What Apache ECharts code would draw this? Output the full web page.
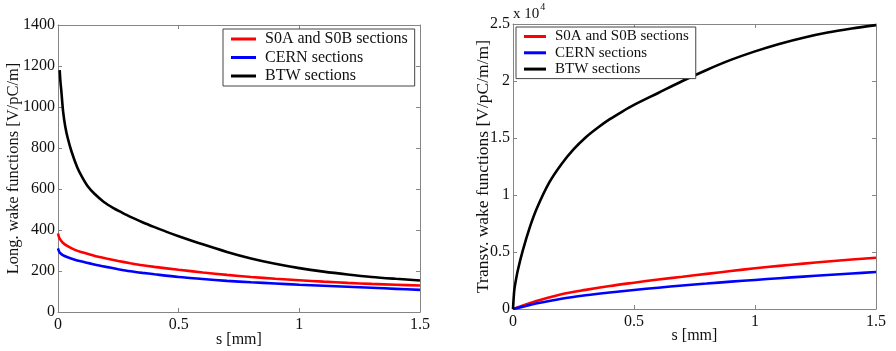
<!DOCTYPE html>
<html>
<head>
<meta charset="utf-8">
<script src="https://cdn.jsdelivr.net/npm/echarts@6/dist/echarts.min.js"></script>
<style>
html,body{margin:0;padding:0;background:#fff;}
#c{width:896px;height:351px;}
</style>
</head>
<body>
<div id="c"></div>
<script>
// ---- Data ----
const seriesNames = ['S0A and S0B sections', 'CERN sections', 'BTW sections'];
const xTicks = [0, 0.5, 1, 1.5];

// Longitudinal wake functions [V/pC/m] vs s [mm]
const sLong = [0, 0.005, 0.01, 0.02, 0.04, 0.07, 0.1, 0.15, 0.2, 0.25, 0.3, 0.35, 0.4, 0.5, 0.6, 0.7, 0.8, 0.9, 1.0, 1.1, 1.2, 1.3, 1.4, 1.5];
const longRed  = [383, 362, 352, 338, 321, 303, 291, 274, 261, 249, 238, 228, 220, 206, 193, 181, 171, 162, 155, 148, 142, 137, 133, 129];
const longBlue = [310, 294, 287, 278, 267, 255, 246, 232, 220, 209, 199, 191, 184, 171, 161, 152, 145, 139, 133, 128, 123, 118, 113, 108];
const sLongBlack = [0.007, 0.01, 0.014, 0.021, 0.03, 0.04, 0.056, 0.08, 0.1, 0.124, 0.15, 0.19, 0.23, 0.26, 0.3, 0.35, 0.4, 0.45, 0.5, 0.6, 0.7, 0.8, 0.9, 1.0, 1.1, 1.2, 1.3, 1.4, 1.5];
const longBlack  = [1180, 1125, 1075, 980, 905, 850, 783, 705, 658, 612, 578, 537, 507, 488, 464, 438, 414, 391, 370, 330, 293, 261, 235, 214, 197, 183, 171, 162, 154];

// Transverse wake functions [V/pC/m/m] vs s [mm]
const sTrans = [0, 0.05, 0.1, 0.2, 0.3, 0.4, 0.5, 0.6, 0.7, 0.8, 0.9, 1.0, 1.1, 1.2, 1.3, 1.4, 1.5];
const transRed  = [0, 380, 720, 1300, 1680, 2020, 2310, 2590, 2830, 3080, 3330, 3570, 3780, 3980, 4170, 4340, 4500];
const transBlue = [0, 250, 500, 900, 1200, 1450, 1670, 1870, 2060, 2230, 2400, 2550, 2700, 2840, 2980, 3110, 3240];
const sTransBlack = [0, 0.005, 0.01, 0.02, 0.04, 0.07, 0.1, 0.15, 0.2, 0.25, 0.3, 0.35, 0.4, 0.45, 0.5, 0.6, 0.7, 0.8, 0.9, 1.0, 1.1, 1.2, 1.3, 1.4, 1.5];
const transBlack  = [0, 1600, 2300, 3400, 5100, 7200, 8900, 11100, 12700, 14000, 15050, 15900, 16650, 17300, 17900, 18950, 20000, 20970, 21850, 22600, 23250, 23800, 24250, 24600, 24900];

function pairs(xs, ys) { return xs.map((x, i) => [x, ys[i]]); }

const colors = ['#ff0000', '#0000ff', '#000000'];
const FONT = '"Liberation Serif", "DejaVu Serif", serif';
const axisGrey = '#858585';

function xAx(grid, top, show, nameGap) {
  return {
    type: 'value', gridIndex: grid, min: xTicks[0], max: xTicks[xTicks.length - 1], interval: 0.5,
    position: top ? 'top' : 'bottom',
    axisLine: { show: true, onZero: false, lineStyle: { color: axisGrey, width: 1 } },
    axisTick: { show: true, inside: true, length: 4, lineStyle: { color: axisGrey } },
    axisLabel: { show: show, color: '#111', fontFamily: FONT, fontSize: 16, margin: 5, formatter: v => String(v) },
    splitLine: { show: false },
    name: show ? 's [mm]' : '', nameLocation: 'middle', nameGap: nameGap, nameMoveOverlap: false,
    nameTextStyle: { color: '#111', fontFamily: FONT, fontSize: 16 }
  };
}
function yAx(grid, right, show, max, interval, name, nameGap, fontSize, fmt) {
  return {
    type: 'value', gridIndex: grid, min: 0, max: max, interval: interval,
    position: right ? 'right' : 'left',
    axisLine: { show: true, onZero: false, lineStyle: { color: axisGrey, width: 1 } },
    axisTick: { show: true, inside: true, length: 4, lineStyle: { color: axisGrey } },
    axisLabel: { show: show, color: '#111', fontFamily: FONT, fontSize: 16, margin: 3, formatter: fmt },
    splitLine: { show: false },
    name: show ? name : '', nameLocation: 'middle', nameGap: nameGap, nameRotate: 90, nameMoveOverlap: false,
    nameTextStyle: { color: '#111', fontFamily: FONT, fontSize: fontSize }
  };
}
function line(name, data, xi, yi, color) {
  return {
    type: 'line', name: name, data: data, xAxisIndex: xi, yAxisIndex: yi,
    showSymbol: false, smooth: 0.3,
    lineStyle: { color: color, width: 2.6 }, itemStyle: { color: color },
    clip: true, animation: false
  };
}
function legend(left, top, fontSize, itemWidth, gap) {
  return {
    orient: 'vertical', left: left, top: top,
    data: seriesNames.map((n, i) => ({ name: n, icon: 'rect', itemStyle: { color: colors[i] } })),
    itemWidth: itemWidth, itemHeight: 3, itemGap: gap,
    padding: [2, 7, 2, 8],
    borderColor: '#444', borderWidth: 1, backgroundColor: '#fff',
    textStyle: { color: '#111', fontFamily: FONT, fontSize: fontSize, padding: [0, 0, 0, 4] },
    selectedMode: false
  };
}

const chart = echarts.init(document.getElementById('c'), null, { renderer: 'canvas' });
chart.setOption({
  backgroundColor: '#fff',
  animation: false,
  grid: [
    { left: 58, top: 25, width: 362, height: 287, outerBoundsMode: 'none', containLabel: false },
    { left: 513, top: 24, width: 363, height: 285, outerBoundsMode: 'none', containLabel: false }
  ],
  xAxis: [xAx(0, false, true, 20), xAx(0, true, false, 0), xAx(1, false, true, 19), xAx(1, true, false, 0)],
  yAxis: [
    yAx(0, false, true, 1400, 200, 'Long. wake functions [V/pC/m]', 36, 16.5, v => String(v)),
    yAx(0, true, false, 1400, 200, '', 0, 16),
    yAx(1, false, true, 25000, 5000, 'Transv. wake functions [V/pC/m/m]', 21, 17.5, v => String(v / 10000)),
    yAx(1, true, false, 25000, 5000, '', 0, 16)
  ],
  legend: [legend(223, 29, 16, 25, 2.5), legend(516, 27, 15, 22, 1.3)],
  graphic: [{
    type: 'text', left: 513, top: 2,
    style: {
      text: '{a|x 10}{b|4}',
      rich: {
        a: { fontFamily: FONT, fontSize: 15, fill: '#111', padding: [6, 0, 0, 0] },
        b: { fontFamily: FONT, fontSize: 10, fill: '#111', padding: [0, 0, 8, 1] }
      }
    }
  }],
  series: [
    line(seriesNames[0], pairs(sLong, longRed), 0, 0, colors[0]),
    line(seriesNames[1], pairs(sLong, longBlue), 0, 0, colors[1]),
    line(seriesNames[2], pairs(sLongBlack, longBlack), 0, 0, colors[2]),
    line(seriesNames[0], pairs(sTrans, transRed), 2, 2, colors[0]),
    line(seriesNames[1], pairs(sTrans, transBlue), 2, 2, colors[1]),
    line(seriesNames[2], pairs(sTransBlack, transBlack), 2, 2, colors[2])
  ]
});
</script>
</body>
</html>
